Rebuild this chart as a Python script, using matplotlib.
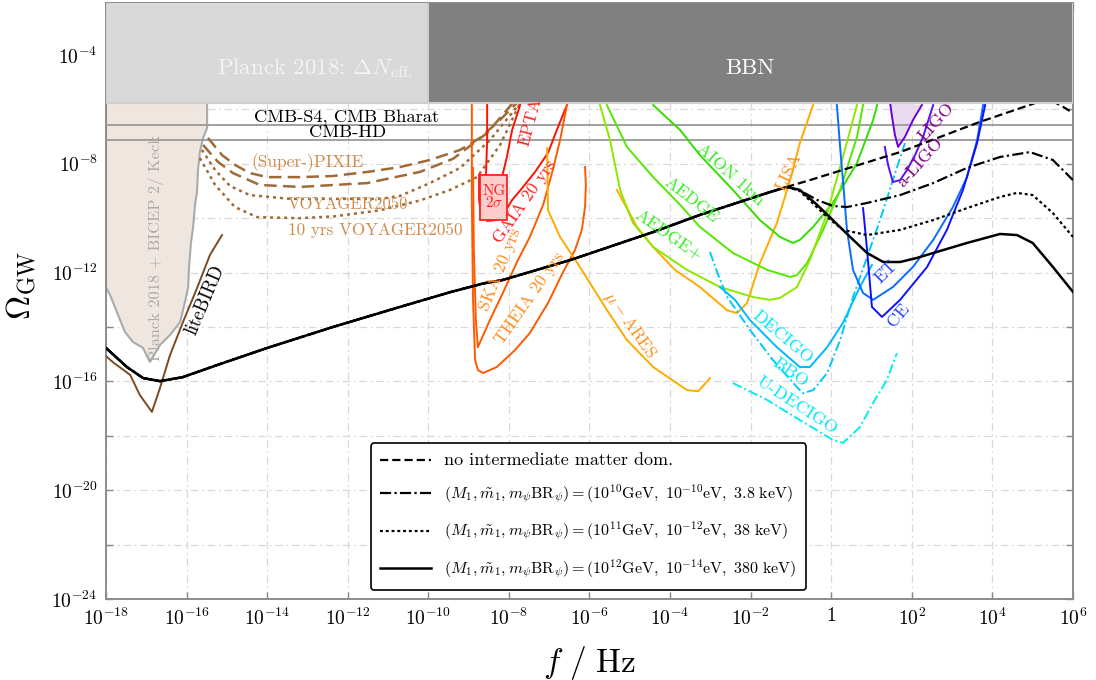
import numpy as np
import matplotlib
matplotlib.use("Agg")
import matplotlib.pyplot as plt
from matplotlib.lines import Line2D
from matplotlib.patches import Rectangle
from matplotlib.ticker import FixedLocator, FuncFormatter, NullLocator

plt.rcParams['font.family'] = 'serif'
plt.rcParams['font.serif'] = ['cmr10', 'DejaVu Serif']
plt.rcParams['mathtext.fontset'] = 'cm'
plt.rcParams['axes.formatter.use_mathtext'] = True
plt.rcParams['axes.unicode_minus'] = False

# all curves as (log10 f/Hz, log10 Omega_GW)
bench_common = np.array([
    [-18.0, -14.77], [-17.48, -15.47], [-17.08, -15.875], [-16.66, -15.99],
    [-16.09, -15.84], [-15.245, -15.40], [-14.0, -14.77], [-12.37, -14.0],
    [-10.70, -13.26], [-9.46, -12.72], [-8.64, -12.40], [-8.15, -12.27],
    [-6.48, -11.54], [-4.42, -10.51], [-3.26, -9.88], [-1.52, -9.04],
    [-1.1, -8.85]])
bench_nomd = np.array([
    [-0.53, -8.60], [1.71, -7.57], [3.69, -6.46], [5.0, -5.80],
    [5.35, -5.60], [5.68, -5.84], [6.0, -6.13]])
bench_10 = np.array([
    [-0.78, -8.98], [-0.35, -9.33], [0.04, -9.55], [0.39, -9.59], [0.89, -9.44],
    [1.71, -9.15], [2.53, -8.71], [3.37, -8.15], [4.19, -7.75], [4.93, -7.57],
    [5.50, -7.86], [6.0, -8.60]])
bench_11 = np.array([
    [-0.78, -9.0], [-0.10, -9.96], [0.29, -10.43], [0.89, -10.62], [1.71, -10.43],
    [2.53, -10.07], [3.37, -9.63], [4.19, -9.22], [4.61, -9.07], [5.0, -9.15],
    [5.50, -9.81], [6.0, -10.69]])
bench_12 = np.array([
    [-0.78, -8.96], [-0.35, -9.51], [0.04, -10.07], [0.47, -10.69], [0.89, -11.28],
    [1.29, -11.61], [1.71, -11.61], [2.13, -11.46], [2.53, -11.28], [3.37, -10.91],
    [4.19, -10.58], [4.61, -10.62], [5.0, -10.91], [5.50, -11.79], [6.0, -12.71]])

planck_bicep = np.array([
    [-18.0, -5.0], [-15.49, -5.0], [-15.49, -6.68], [-15.59, -7.05], [-15.67, -7.57],
    [-15.72, -8.30], [-15.74, -9.04], [-15.79, -9.51], [-15.84, -10.36],
    [-15.89, -10.88], [-15.94, -11.83], [-15.96, -12.53], [-16.04, -13.08],
    [-16.16, -13.82], [-16.41, -14.29], [-16.66, -14.66], [-16.91, -15.29],
    [-17.08, -14.77], [-17.33, -14.55], [-17.53, -14.18], [-17.73, -13.45],
    [-17.90, -12.82], [-18.0, -12.54]])
litebird = np.array([
    [-18.0, -15.07], [-17.83, -15.29], [-17.40, -15.76], [-17.16, -16.5],
    [-16.86, -17.12], [-16.66, -16.24], [-16.41, -15.03], [-16.09, -13.82],
    [-15.74, -12.57], [-15.42, -11.35], [-15.12, -10.62]])
pixie = np.array([
    [-15.47, -7.05], [-15.12, -7.68], [-14.80, -8.04], [-14.43, -8.34],
    [-14.0, -8.49], [-13.18, -8.49], [-12.37, -8.45], [-11.52, -8.30],
    [-10.70, -8.12], [-9.96, -7.86], [-9.21, -7.49], [-8.72, -7.05],
    [-8.22, -6.39], [-7.80, -5.76]])
super_pixie = np.array([
    [-15.59, -7.31], [-15.22, -7.93], [-14.85, -8.34], [-14.18, -8.78],
    [-13.18, -8.85], [-11.52, -8.71], [-10.21, -8.30], [-9.39, -7.82],
    [-8.54, -6.87], [-7.90, -5.76]])
voyager = np.array([
    [-15.62, -7.49], [-15.29, -8.23], [-14.92, -8.82], [-14.43, -9.15],
    [-13.43, -9.29], [-12.19, -9.29], [-11.20, -9.29], [-10.70, -9.18],
    [-9.96, -8.71], [-9.21, -8.15], [-8.47, -7.13], [-7.72, -5.76]])
voyager_10 = np.array([
    [-15.67, -7.79], [-15.29, -8.78], [-14.80, -9.59], [-14.25, -9.96],
    [-13.18, -10.0], [-12.32, -9.93], [-11.20, -9.71], [-10.21, -9.35],
    [-9.46, -8.96], [-8.79, -8.49], [-8.22, -7.31], [-7.72, -5.76]])

epta = np.array([
    [-8.54, -5.84], [-8.54, -7.13], [-8.57, -8.49], [-8.37, -8.78],
    [-8.17, -8.49], [-8.05, -7.75], [-7.92, -6.76], [-7.72, -5.84]])
gaia = np.array([
    [-8.74, -8.41], [-8.74, -9.33], [-8.69, -9.85], [-8.54, -10.10],
    [-8.32, -10.07], [-8.10, -9.77], [-7.92, -9.33], [-7.67, -8.89],
    [-7.35, -8.30], [-7.03, -7.60], [-6.81, -6.76], [-6.56, -5.84]])
nanograv_f = [-8.72, -8.05]
nanograv_om = [-10.07, -8.41]
ska = np.array([
    [-8.89, -8.15], [-8.87, -11.17], [-8.82, -13.74], [-8.77, -14.74],
    [-8.47, -13.74], [-8.15, -12.75], [-7.80, -11.61], [-7.48, -10.69],
    [-7.15, -9.51], [-6.91, -8.23], [-6.73, -7.13], [-6.56, -5.84]])
theia = np.array([
    [-8.92, -5.84], [-8.92, -9.33], [-8.89, -13.0], [-8.84, -15.21],
    [-8.77, -15.58], [-8.64, -15.69], [-8.30, -15.47], [-7.85, -14.85],
    [-7.48, -14.22], [-7.03, -13.12], [-6.66, -11.99], [-6.36, -11.17],
    [-6.19, -10.43], [-6.11, -9.59], [-6.09, -8.78], [-6.11, -8.12]])
mu_ares = np.array([
    [-7.05, -7.42], [-7.03, -9.70], [-6.73, -10.69], [-6.24, -11.79],
    [-5.57, -13.37], [-5.07, -14.48], [-4.42, -15.47], [-3.58, -16.32],
    [-3.30, -16.36], [-3.01, -15.88]])
lisa = np.array([
    [-5.32, -8.96], [-4.82, -10.32], [-4.42, -11.06], [-3.88, -11.90],
    [-3.26, -12.53], [-2.59, -13.38], [-2.34, -13.49], [-2.09, -13.12],
    [-1.77, -11.65], [-1.35, -10.18], [-1.02, -8.60], [-0.78, -7.24],
    [-0.45, -5.84]])
aion = np.array([
    [-4.42, -5.84], [-3.75, -6.76], [-3.26, -7.68], [-2.44, -8.96],
    [-1.77, -10.07], [-1.27, -10.69], [-0.95, -10.91], [-0.78, -10.80],
    [-0.45, -10.32], [0.04, -9.44], [0.64, -7.97], [1.04, -6.39], [1.14, -5.84]])
aedge = np.array([
    [-5.57, -5.84], [-5.07, -7.38], [-4.42, -8.49], [-3.75, -9.51],
    [-3.26, -10.32], [-2.44, -11.28], [-1.59, -11.90], [-1.02, -12.16],
    [-0.85, -12.09], [-0.60, -11.65], [-0.20, -10.43], [0.22, -8.96],
    [0.64, -7.01], [0.79, -5.84]])
aedge_plus = np.array([
    [-5.74, -5.84], [-5.49, -7.13], [-5.24, -8.96], [-4.92, -10.18],
    [-4.42, -11.06], [-3.58, -11.90], [-2.76, -12.53], [-1.94, -12.90],
    [-1.52, -13.0], [-1.27, -12.93], [-0.85, -12.53], [-0.53, -11.54],
    [-0.10, -9.81], [0.29, -7.75], [0.64, -5.84]])
decigo = np.array([
    [-2.76, -12.53], [-2.39, -13.0], [-2.02, -13.74], [-1.35, -14.74],
    [-0.78, -15.47], [-0.53, -15.47], [-0.10, -14.74], [0.29, -13.85],
    [0.71, -12.53], [1.01, -11.72]])
bbo = np.array([
    [-3.01, -11.24], [-2.83, -11.99], [-2.59, -12.88], [-2.02, -14.10],
    [-1.45, -15.21], [-0.85, -16.21], [-0.70, -16.43], [-0.45, -16.32],
    [-0.10, -15.69], [0.22, -14.48], [0.54, -12.90], [0.89, -11.43],
    [1.21, -10.07], [1.53, -8.60], [1.83, -7.24]])
u_decigo = np.array([
    [-2.44, -16.06], [-1.59, -16.68], [-0.78, -17.42], [0.04, -18.15],
    [0.29, -18.26], [0.71, -17.68], [1.04, -16.79], [1.38, -15.95], [1.63, -14.96]])
et = np.array([
    [0.14, -5.84], [0.22, -7.38], [0.29, -8.60], [0.39, -10.43], [0.54, -11.90],
    [0.79, -12.75], [1.04, -13.0], [1.53, -12.53], [2.03, -11.79], [2.53, -10.80],
    [3.02, -9.59], [3.37, -8.49], [3.62, -7.13], [3.77, -5.84]])
ce = np.array([
    [0.79, -9.63], [0.89, -11.17], [1.01, -13.26], [1.26, -13.63], [1.71, -13.0],
    [2.38, -11.79], [2.87, -10.43], [3.27, -8.96], [3.62, -7.24], [3.82, -5.84]])
ligo = np.array([
    [1.46, -5.76], [1.51, -6.28], [1.58, -6.94], [1.66, -7.38], [1.83, -7.01],
    [2.03, -6.39], [2.25, -5.84]])
a_ligo = np.array([
    [1.33, -7.38], [1.41, -8.04], [1.53, -8.67], [1.71, -8.60], [1.88, -8.23],
    [2.08, -7.68], [2.28, -7.01], [2.53, -5.84]])

neff_bound = -5.76
bbn_split = -10.0
cmb_s4 = -6.57
cmb_hd = -7.125

legend_labels = [
    r"no intermediate matter dom.",
    r"$(M_1, \tilde{m}_1, m_\psi \mathrm{BR}_\psi) = (10^{10}\mathrm{GeV},\ 10^{-10}\mathrm{eV},\ 3.8\ \mathrm{keV})$",
    r"$(M_1, \tilde{m}_1, m_\psi \mathrm{BR}_\psi) = (10^{11}\mathrm{GeV},\ 10^{-12}\mathrm{eV},\ 38\ \mathrm{keV})$",
    r"$(M_1, \tilde{m}_1, m_\psi \mathrm{BR}_\psi) = (10^{12}\mathrm{GeV},\ 10^{-14}\mathrm{eV},\ 380\ \mathrm{keV})$",
]


def curve(ax, arr, color, ls='-', lw=1.4, z=3):
    ax.plot(10 ** arr[:, 0], 10 ** arr[:, 1], color=color, ls=ls, lw=lw, zorder=z)


def label(ax, s, lx, ly, color, rot=0, size=12.5):
    ax.text(10 ** lx, 10 ** ly, s, color=color, rotation=rot, fontsize=size,
            ha='center', va='center', rotation_mode='anchor', zorder=7)


fig = plt.figure(figsize=(10.96, 6.8), dpi=100)
ax = fig.add_axes([0.0967, 0.119, 0.8823, 0.8766])
ax.set_xscale('log')
ax.set_yscale('log')
ax.set_xlim(1e-18, 1e6)
ax.set_ylim(1e-24, 10 ** -2.09)

# constraint boxes
ax.add_patch(Rectangle((1e-18, 10 ** neff_bound), 10 ** bbn_split - 1e-18, 1,
                       facecolor='#d9d9d9', edgecolor='#cfcfcf', lw=1.5, zorder=5))
ax.add_patch(Rectangle((10 ** bbn_split, 10 ** neff_bound), 1e6 - 10 ** bbn_split, 1,
                       facecolor='#808080', edgecolor='#cfcfcf', lw=1.5, zorder=5))
label(ax, r"Planck 2018: $\Delta N_{\rm eff.}$", -12.81, -4.48, '#f4f4f4', size=16.5)
label(ax, "BBN", -2.02, -4.48, 'white', size=16.5)

ax.fill(10 ** planck_bicep[:, 0], 10 ** planck_bicep[:, 1], facecolor='#efe6df',
        edgecolor='#aaaaaa', lw=1.5, zorder=2)
label(ax, "Planck 2018 + BICEP 2/ Keck", -16.76, -11.1, '#aaaaaa', rot=90, size=11.8)

ax.axhline(10 ** cmb_s4, color='#999999', lw=1.3, zorder=3)
ax.axhline(10 ** cmb_hd, color='#999999', lw=1.3, zorder=3)
label(ax, "CMB-S4, CMB Bharat", -12.02, -6.28, 'black', size=13.3)
label(ax, "CMB-HD", -12.0, -6.83, 'black', size=13.3)

# CMB spectral distortions and liteBIRD
brown = '#9e6b38'
curve(ax, litebird, '#7a4b20')
label(ax, "liteBIRD", -15.54, -13.0, 'black', rot=67, size=13.5)
curve(ax, pixie, brown, ls=(0, (5, 2.5)), lw=1.8)
curve(ax, super_pixie, brown, ls=(0, (5, 2.5)), lw=1.8)
curve(ax, voyager, brown, ls=(0, (1.2, 1.6)), lw=1.8)
curve(ax, voyager_10, brown, ls=(0, (1.2, 1.6)), lw=1.8)
tan = '#d08b4c'
label(ax, "(Super-)PIXIE", -12.99, -7.97, tan, size=12.5)
label(ax, "VOYAGER2050", -11.99, -9.48, tan, size=12)
label(ax, "10 yrs VOYAGER2050", -11.32, -10.43, tan, size=12.3)

# PTAs and astrometry
ax.add_patch(Rectangle((10 ** nanograv_f[0], 10 ** nanograv_om[0]),
                       10 ** nanograv_f[1] - 10 ** nanograv_f[0],
                       10 ** nanograv_om[1] - 10 ** nanograv_om[0],
                       facecolor='#ffcccc', edgecolor='#ff2020', lw=1.3, zorder=4))
ax.text(10 ** -8.37, 10 ** -9.22, "NG\n$2\\sigma$", color='#ff2020', fontsize=11,
        ha='center', va='center', linespacing=0.8, zorder=7)
curve(ax, epta, '#ff1100')
curve(ax, gaia, '#ff1100')
curve(ax, ska, '#ff5a00')
curve(ax, theia, '#ff5a00')
label(ax, "EPTA", -7.48, -6.46, '#ff2020', rot=75)
label(ax, "GAIA 20 yrs", -7.6, -9.4, '#ff2020', rot=55)
label(ax, "SKA 20 yrs", -8.22, -11.9, '#ff8c1a', rot=68)
label(ax, "THEIA 20 yrs", -7.48, -12.93, '#ff8c1a', rot=55)

# space and atom interferometers
curve(ax, mu_ares, '#ffaa00')
label(ax, r"$\mu-$ARES", -5.0, -13.93, '#ff8c1a', rot=-55)
curve(ax, lisa, '#ffaa00')
label(ax, "LISA", -1.07, -8.3, '#ff8c1a', rot=65)
curve(ax, aion, '#33dd00')
curve(ax, aedge, '#55e800')
curve(ax, aedge_plus, '#8de800')
label(ax, "AION 1km", -2.51, -8.41, '#33ee22', rot=-42)
label(ax, "AEDGE", -3.46, -9.33, '#33ee22', rot=-38)
label(ax, "AEDGE+", -4.05, -10.62, '#33ee22', rot=-35)
curve(ax, decigo, '#00b8ff')
curve(ax, bbo, '#00c8ff', ls=(0, (5, 1.5, 1, 1.5)))
curve(ax, u_decigo, '#00eeee', ls=(0, (5, 1.5, 1, 1.5)))
label(ax, "DECIGO", -1.22, -14.37, '#00e8ff', rot=-40, size=13)
label(ax, "BBO", -1.02, -15.69, '#00e8ff', rot=-35, size=13)
label(ax, "U-DECIGO", -0.85, -16.87, '#00e8ff', rot=-33, size=13)

# ground based
curve(ax, et, '#0a6cff')
curve(ax, ce, '#1010ff')
label(ax, "ET", 1.36, -11.98, '#2244ff', rot=45, size=13)
label(ax, "CE", 1.66, -13.56, '#2244ff', rot=50, size=13)
ax.fill(10 ** ligo[:, 0], 10 ** ligo[:, 1], facecolor='#eadcef', edgecolor='none', zorder=2)
curve(ax, ligo, '#6a00dd')
curve(ax, a_ligo, '#5a10f0')
label(ax, "LIGO", 2.60, -6.46, '#800080', rot=48, size=13)
label(ax, "a-LIGO", 2.20, -7.93, '#800080', rot=48, size=13)

# benchmark spectra
nomd = np.vstack([bench_common, bench_nomd])
bp10 = np.vstack([bench_common, bench_10])
bp11 = np.vstack([bench_common, bench_11])
bp12 = np.vstack([bench_common, bench_12])
curve(ax, nomd, 'black', ls=(0, (3.7, 1.8)), lw=1.6, z=4)
curve(ax, bp10, 'black', ls=(0, (5, 1.5, 1, 1.5)), lw=1.6, z=4)
curve(ax, bp11, 'black', ls=(0, (1.3, 1.3)), lw=1.6, z=4)
curve(ax, bp12, 'black', lw=1.8, z=4)

handles = [Line2D([], [], color='black', lw=1.6, ls=(0, (3.7, 1.8))),
           Line2D([], [], color='black', lw=1.6, ls=(0, (5, 1.5, 1, 1.5))),
           Line2D([], [], color='black', lw=1.6, ls=(0, (1.3, 1.3))),
           Line2D([], [], color='black', lw=1.8)]
leg = ax.legend(handles, legend_labels, loc='lower center', bbox_to_anchor=(0.499, 0.015),
                borderaxespad=0, fontsize=11.5, handlelength=3.2, labelspacing=0.9,
                borderpad=0.6, handletextpad=0.8, framealpha=1, edgecolor='black',
                fancybox=True)
leg.get_texts()[0].set_fontsize(13)
leg.get_frame().set_linewidth(1.2)
leg.set_zorder(8)

# axes styling
xt = [10.0 ** k for k in range(-18, 7, 2)]
yt = [10.0 ** k for k in range(-24, -2, 2)]
ax.xaxis.set_major_locator(FixedLocator(xt))
ax.yaxis.set_major_locator(FixedLocator(yt))
ax.xaxis.set_minor_locator(NullLocator())
ax.yaxis.set_minor_locator(NullLocator())


def xfmt(v, pos):
    k = int(round(np.log10(v)))
    return "$1$" if k == 0 else r"$10^{%d}$" % k


def yfmt(v, pos):
    k = int(round(np.log10(v)))
    return r"$10^{%d}$" % k if k % 4 == 0 else ""


ax.xaxis.set_major_formatter(FuncFormatter(xfmt))
ax.yaxis.set_major_formatter(FuncFormatter(yfmt))
ax.tick_params(direction='in', top=True, right=True, length=5, width=1,
               color='#888888', labelsize=14, pad=6)
ax.grid(True, color='#d8d8d8', lw=0.9, ls=(0, (6, 3, 1.5, 3)))
ax.set_axisbelow(True)
for sp in ax.spines.values():
    sp.set_color('#8c8c8c')
    sp.set_linewidth(1.4)

ax.set_xlabel(r"$f\ /\ \mathrm{Hz}$", fontsize=24)
ax.xaxis.set_label_coords(0.5, -0.075)
ax.set_ylabel(r"$\Omega_{\rm GW}$", fontsize=24)
ax.yaxis.set_label_coords(-0.07, 0.527)

fig.savefig("out.png", dpi=100)
